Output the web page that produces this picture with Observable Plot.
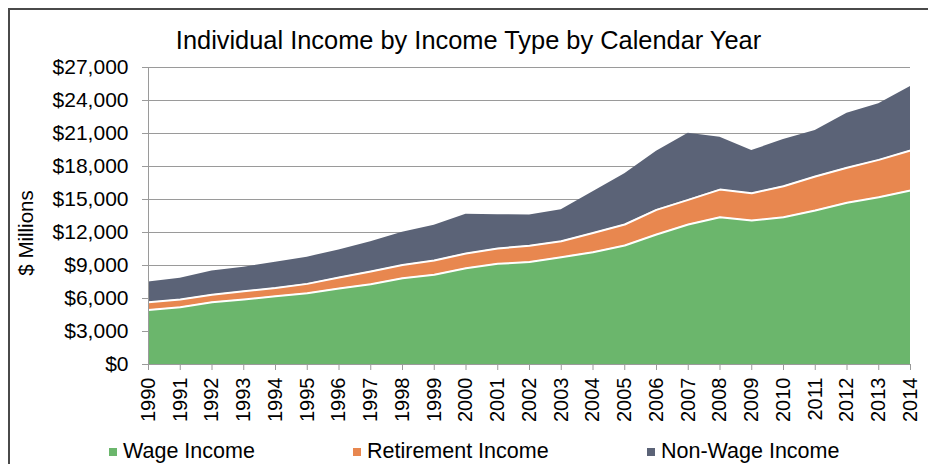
<!DOCTYPE html>
<html>
<head>
<meta charset="utf-8">
<script src="https://cdn.jsdelivr.net/npm/d3@7"></script>
<script src="https://cdn.jsdelivr.net/npm/@observablehq/plot@0.6"></script>
<style>
  html, body { margin: 0; padding: 0; background: #fff; }
  body { width: 928px; height: 464px; overflow: hidden; font-family: "Liberation Sans", Arial, sans-serif; }
  #wrap { position: relative; width: 928px; height: 464px; }
  #border { position: absolute; left: 8px; top: 8px; width: 960px; height: 500px; border: 2px solid #4a4a4a; box-sizing: border-box; }
  #title { position: absolute; left: 0; top: 26px; width: 937px; text-align: center; font-size: 25.4px; color: #000; line-height: 28px; }
  #chart { position: absolute; left: 0; top: 50px; }
  #legend { position: absolute; top: 437px; left: 0; width: 928px; height: 28px; font-size: 21.5px; color: #000; }
  .item { position: absolute; top: 0; line-height: 28px; white-space: nowrap; }
  .sw { display: inline-block; width: 8px; height: 8px; margin-right: 6px; vertical-align: 2px; }
</style>
</head>
<body>
<div id="wrap">
  <div id="border"></div>
  <div id="title">Individual Income by Income Type by Calendar Year</div>
  <div id="chart"></div>
  <div id="legend"></div>
</div>
<script>
const years = [1990,1991,1992,1993,1994,1995,1996,1997,1998,1999,2000,2001,2002,2003,2004,2005,2006,2007,2008,2009,2010,2011,2012,2013,2014];
const wageIncome =       [4950,5200,5650,5900,6200,6480,6900,7300,7850,8150,8750,9150,9320,9760,10200,10820,11820,12730,13390,13090,13390,14000,14700,15210,15820];
const retirementIncome = [ 700, 700, 700, 750, 750, 850,1000,1150,1200,1300,1350,1400,1480,1450, 1750, 1910, 2240, 2240, 2510, 2480, 2820, 3090, 3180, 3390, 3630];
const nonWageIncome =    [1850,1950,2150,2200,2350,2430,2520,2700,2980,3200,3570,3070,2800,2850, 3750, 4600, 5330, 6060, 4760, 3880, 4240, 4180, 4970, 5100, 5820];
const seriesNames = ["Wage Income", "Retirement Income", "Non-Wage Income"];
const seriesColors = ["#6bb66c", "#e8874f", "#5b6377"];
const yTicks = [0,3000,6000,9000,12000,15000,18000,21000,24000,27000];

const seriesValues = [wageIncome, retirementIncome, nonWageIncome];
const data = [];
seriesNames.forEach((name, s) => {
  years.forEach((yr, i) => data.push({year: yr, type: name, value: seriesValues[s][i]}));
});

const fmt = d => "$" + d3.format(",")(d);
const stackOpts = {x: "year", y: "value", z: "type", order: seriesNames};

const chart = Plot.plot({
  width: 928,
  height: 380,
  marginLeft: 148,
  marginRight: 18,
  marginTop: 17,
  marginBottom: 66,
  style: {fontFamily: "'Liberation Sans', Arial, sans-serif", background: "transparent", overflow: "visible"},
  x: {type: "linear", domain: [1990, 2014]},
  y: {domain: [0, 27000]},
  color: {domain: seriesNames, range: seriesColors},
  marks: [
    Plot.gridY(yTicks, {stroke: "#9a9a9a", strokeOpacity: 1, strokeWidth: 1}),
    Plot.areaY(data, Plot.stackY({...stackOpts, fill: "type", fillOpacity: 1})),
    Plot.lineY(data.filter(d => d.type !== "Non-Wage Income"), Plot.stackY2({...stackOpts, stroke: "white", strokeWidth: 2})),
    Plot.ruleX([1990], {stroke: "#9a9a9a", strokeWidth: 1}),
    Plot.ruleY([0], {stroke: "#9a9a9a", strokeWidth: 1}),
    Plot.axisY(yTicks, {tickFormat: fmt, tickSize: 6, tickPadding: 14, fontSize: 21, stroke: "#9a9a9a", fill: "#000", label: null}),
    Plot.axisX(years, {tickFormat: d => String(d), tickRotate: -90, tickSize: 6, tickPadding: 7, fontSize: 20, stroke: "#9a9a9a", fill: "#000", label: null}),
    Plot.text(["$ Millions"], {frameAnchor: "left", textAnchor: "middle", dx: -122, dy: 17, rotate: -90, fontSize: 20.5, fill: "#000"})
  ]
});
document.getElementById("chart").appendChild(chart);

const legend = document.getElementById("legend");
const legendX = [109, 353, 647];
seriesNames.forEach((name, i) => {
  const it = document.createElement("div");
  it.className = "item";
  it.style.left = legendX[i] + "px";
  const sw = document.createElement("span");
  sw.className = "sw";
  sw.style.background = seriesColors[i];
  it.appendChild(sw);
  it.appendChild(document.createTextNode(name));
  legend.appendChild(it);
});
</script>
</body>
</html>
